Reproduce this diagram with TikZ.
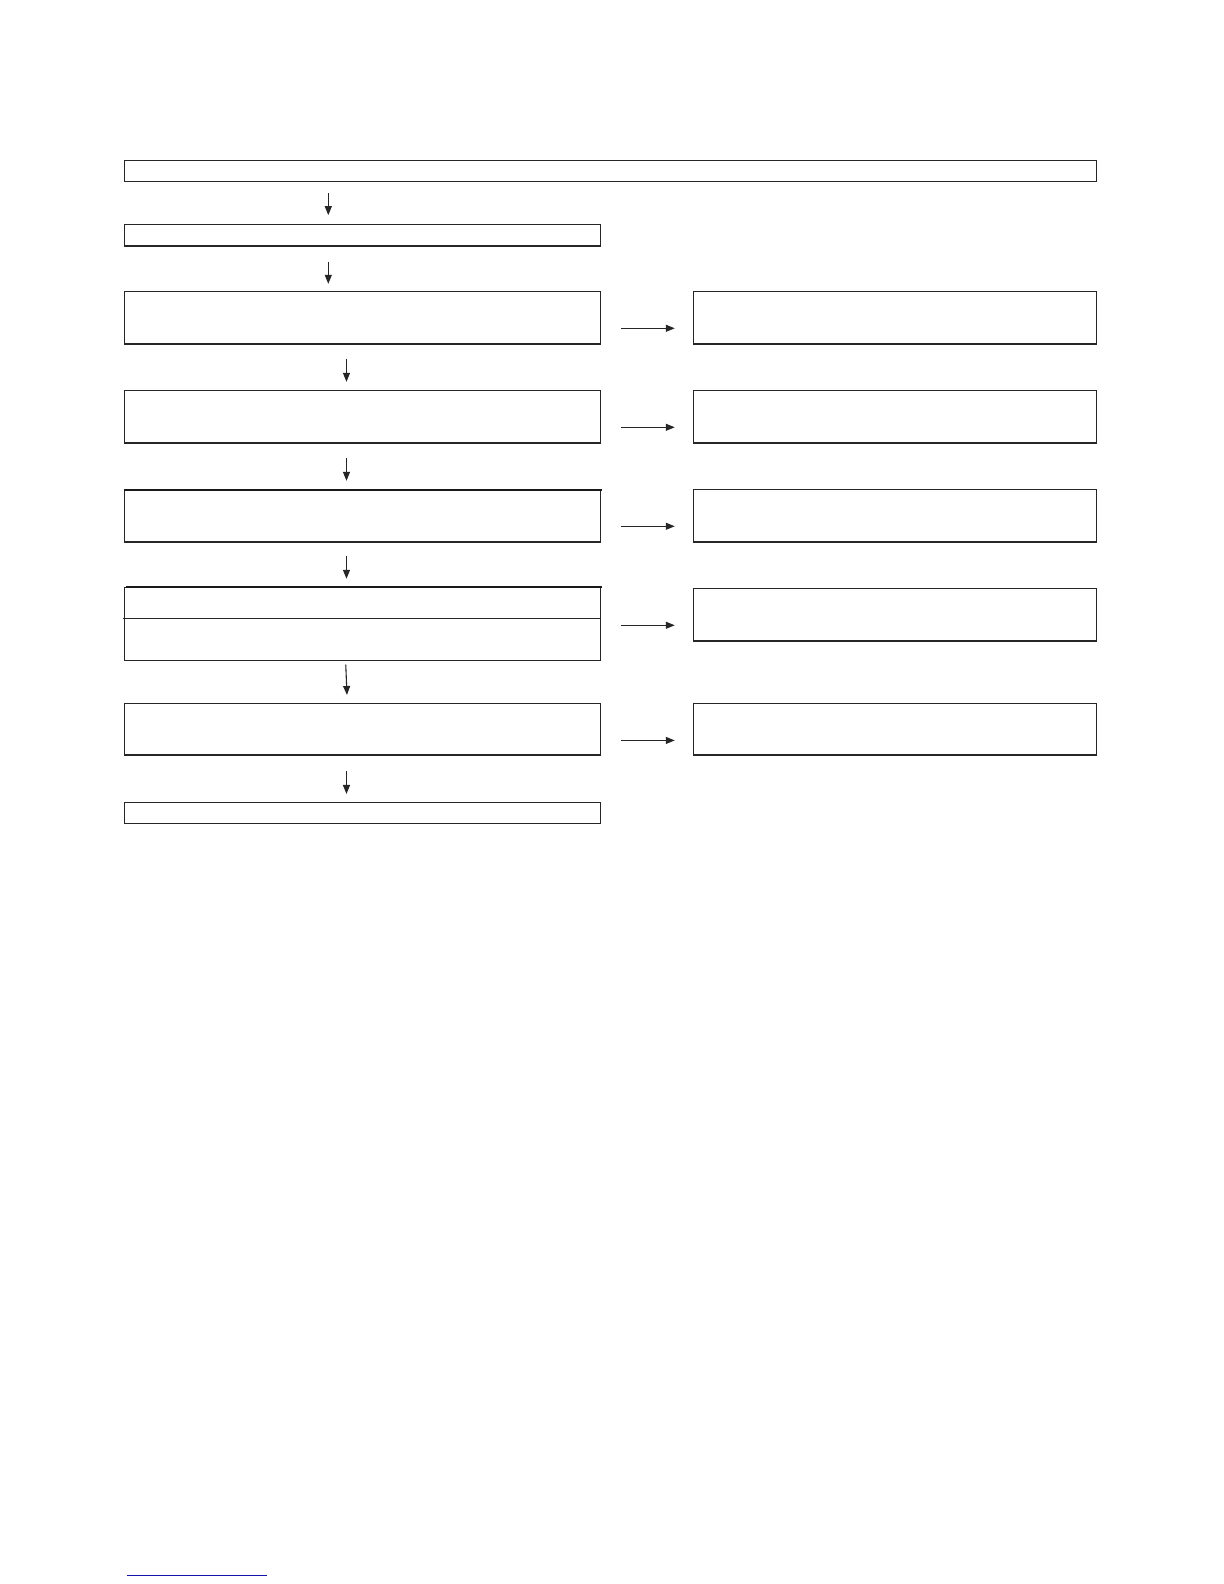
\documentclass[tikz,border=0pt]{standalone}
\usetikzlibrary{arrows.meta}
\begin{document}
\begin{tikzpicture}[x=1pt,y=-1pt,scale=1.01,
  every node/.style={transform shape},
  box/.style={draw=black!85,line width=1.2pt,inner sep=0pt,anchor=north west},
  arr/.style={draw=black!85,line width=1.1pt,-{Triangle[length=9pt,width=7pt]}}]
\useasboundingbox (0,0) rectangle (1211.88,1568.32);
% boxes
\node[box,minimum width=962pt,minimum height=21pt] (top) at (123,158) {};
\node[box,minimum width=471pt,minimum height=21pt] (b2) at (123,222) {};
\node[box,minimum width=471pt,minimum height=52pt] (l1) at (123,288) {};
\node[box,minimum width=399pt,minimum height=52pt] (r1) at (686,288) {};
\node[box,minimum width=471pt,minimum height=52pt] (l2) at (123,386) {};
\node[box,minimum width=399pt,minimum height=52pt] (r2) at (686,386) {};
\node[box,minimum width=471pt,minimum height=51pt] (l3) at (123,485) {};
\node[box,minimum width=399pt,minimum height=52pt] (r3) at (686,484) {};
\node[box,minimum width=471pt,minimum height=72pt] (l4) at (123,581) {};
\node[box,minimum width=399pt,minimum height=52pt] (r4) at (686,582) {};
\node[box,minimum width=471pt,minimum height=51pt] (l5) at (123,696) {};
\node[box,minimum width=399pt,minimum height=51pt] (r5) at (686,696) {};
\node[box,minimum width=471pt,minimum height=21pt] (bot) at (123,794) {};
% heavier top edges
\draw[line width=2pt,black!90] (l3.north west) -- ([xshift=1pt]l3.north east);
\draw[line width=2.2pt,black!90] ([xshift=2pt]l4.north west) -- ([xshift=1pt]l4.north east);
% divider in l4
\draw[line width=1.2pt,black!85] ([xshift=-1.5pt]l4.west |- 0,612) coordinate (d1) -- (l4.east |- 0,612) coordinate (d2);
% vertical arrows
\coordinate (v1a) at (325,191); \coordinate (v1b) at (325,213);
\coordinate (v2a) at (325,259); \coordinate (v2b) at (325,281);
\coordinate (v3a) at (343,355); \coordinate (v3b) at (343,378);
\coordinate (v4a) at (343,453); \coordinate (v4b) at (343,476);
\coordinate (v5a) at (343,550); \coordinate (v5b) at (343,573);
\coordinate (v6a) at (342.3,658); \coordinate (v6b) at (343.5,688);
\coordinate (v7a) at (343,763); \coordinate (v7b) at (343,786);
\foreach \i in {1,...,7} {\draw[arr] (v\i a) -- (v\i b);}
% horizontal arrows
\coordinate (h1a) at (615,325); \coordinate (h1b) at (668,325);
\coordinate (h2a) at (615,423); \coordinate (h2b) at (668,423);
\coordinate (h3a) at (615,521); \coordinate (h3b) at (668,521);
\coordinate (h4a) at (615,619); \coordinate (h4b) at (668,619);
\coordinate (h5a) at (615,733); \coordinate (h5b) at (668,733);
\foreach \i in {1,...,5} {\draw[arr] (h\i a) -- (h\i b);}
% blue line at bottom
\coordinate (ba) at (125.7,1559.4); \coordinate (bb) at (264.5,1559.4);
\draw[line width=1.3pt,color={rgb,255:red,20;green,20;blue,170}] (ba) -- (bb);
\end{tikzpicture}
\end{document}
